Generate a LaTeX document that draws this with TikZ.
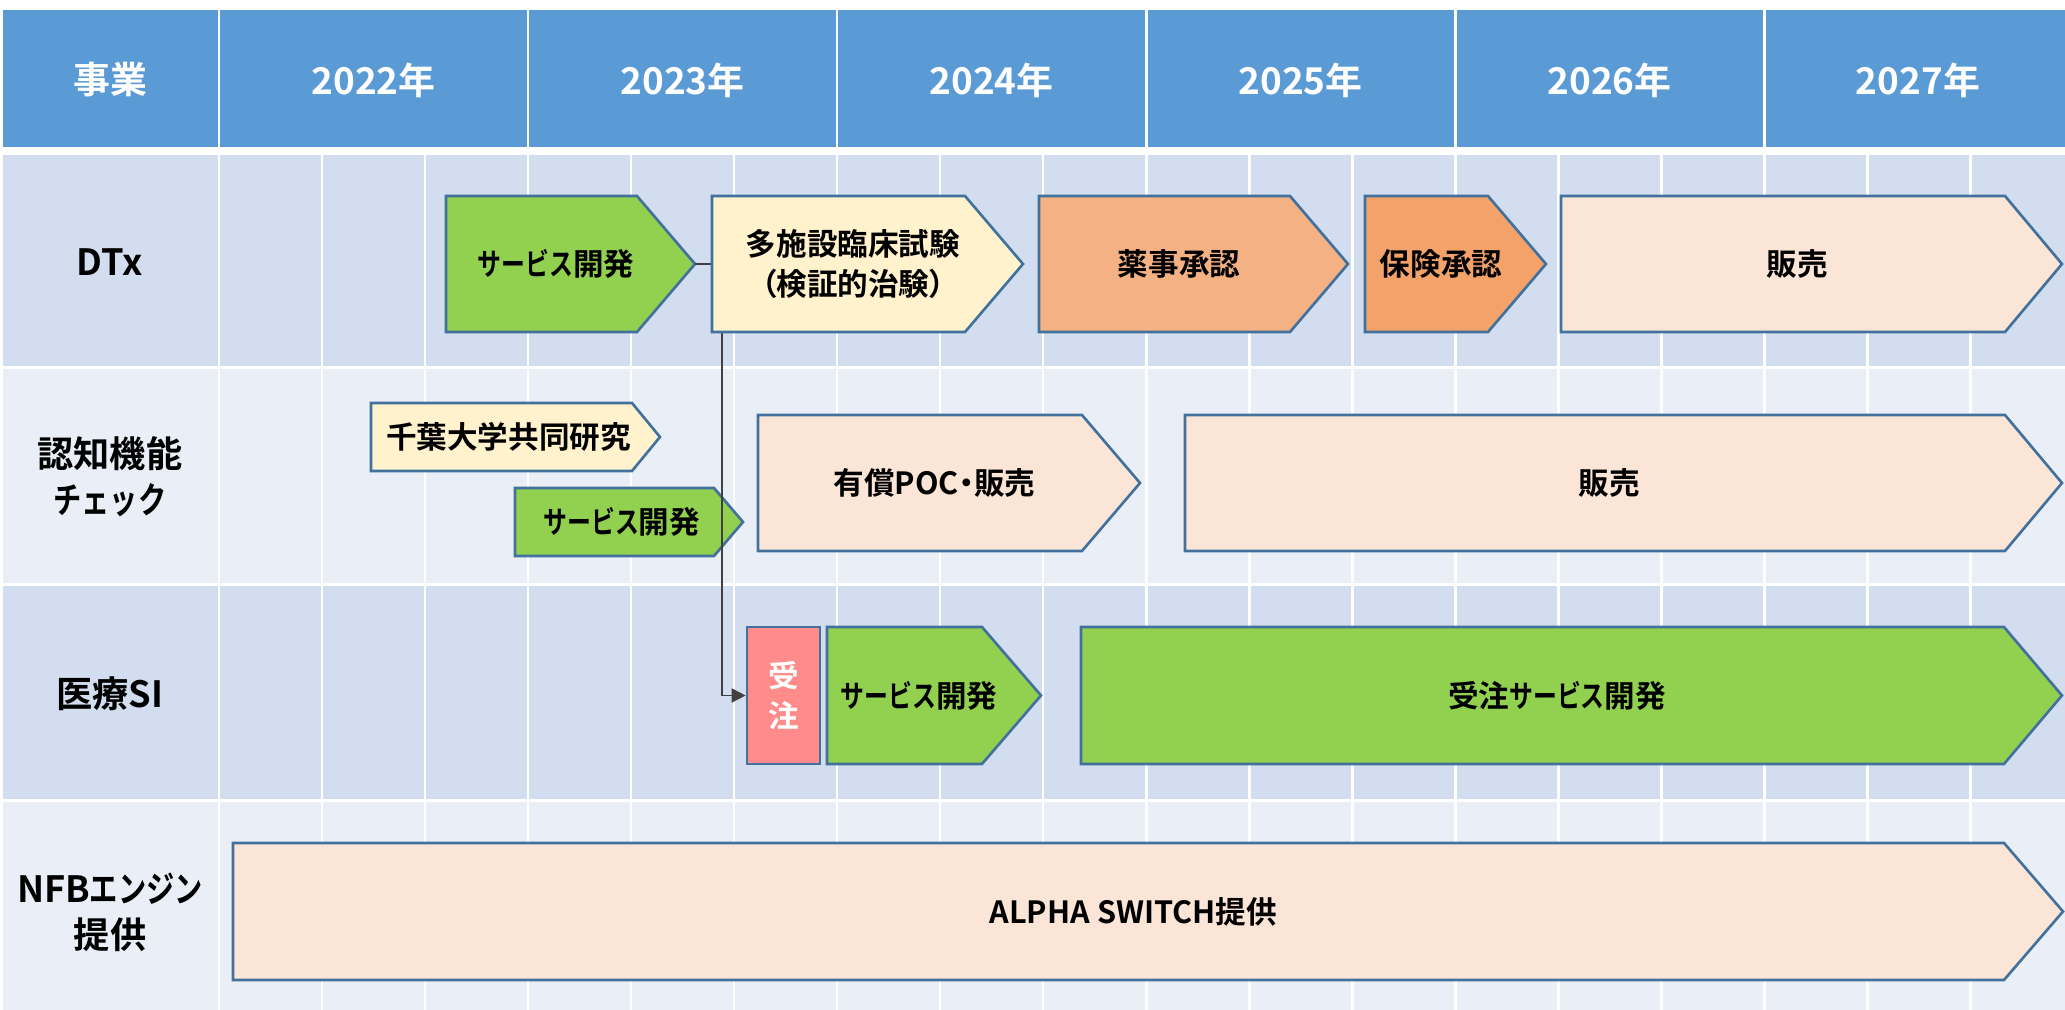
\documentclass[tikz,border=0pt]{standalone}
\usepackage{fontspec}
\setmainfont{Noto Sans CJK JP}[UprightFont={* Bold}, RawFeature=+palt]
\newfontfamily\kana{Noto Sans CJK JP}[UprightFont={* Bold}, FakeStretch=0.78]
\usetikzlibrary{arrows.meta}
\definecolor{hdr}{HTML}{5B9BD5}
\definecolor{rowdark}{HTML}{D2DEEF}
\definecolor{rowlight}{HTML}{EAEFF7}
\definecolor{edgeblue}{HTML}{41719C}
\definecolor{grn}{HTML}{92D050}
\definecolor{ylw}{HTML}{FFF2CC}
\definecolor{peach}{HTML}{FBE5D6}
\definecolor{orgA}{HTML}{F4B183}
\definecolor{orgB}{HTML}{F3A26A}
\definecolor{redbox}{HTML}{FF8B8B}
\definecolor{conncol}{HTML}{404040}
\newcommand\kn[1]{{\kana #1}}
% #1 name, #2 x left, #3 x tip, #4 y top, #5 y bottom, #6 depth, #7 fill, #8 text
\newcommand\pent[8]{%
  \draw[shapeline, fill=#7] (#2,#4) -- ({#3-#6},#4) -- (#3,{(#4+#5)/2}) -- ({#3-#6},#5) -- (#2,#5) -- cycle;
  \node[bodytext] (#1) at ({(#2+#3)/2-#6/4},{(#4+#5)/2}) {#8};
  \coordinate (#1-tip) at (#3,{(#4+#5)/2});
  \coordinate (#1-w) at (#2,{(#4+#5)/2});
}
\begin{document}
\begin{tikzpicture}[x=0.01cm, y=-0.01cm,
  shapeline/.style={draw=edgeblue, line width=0.75pt, line join=miter},
  bodytext/.style={font=\fontsize{8.7}{11.4}\selectfont, align=center, inner sep=0pt, text=black},
  hdrtext/.style={font=\fontsize{10.5}{13}\selectfont, text=white, inner sep=0pt},
  rowlabel/.style={font=\fontsize{10.3}{13.1}\selectfont, align=center, inner sep=0pt, text=black},
  gridline/.style={draw=white, line width=0.85pt},
  conn/.style={draw=conncol, line width=0.5pt, -{Triangle[length=4pt,width=4pt]}}]
\useasboundingbox (0,0) rectangle (2065,1010);
\fill[white] (0,0) rectangle (2065,1010);
% header
\fill[hdr] (3,10) rectangle (2065,147.5);
\foreach \x in {219,528,837,1146,1455,1764} \draw[gridline] (\x,10) -- (\x,147.5);
% rows
\fill[rowdark] (3,155) rectangle (2065,367.5);
\fill[rowlight] (3,367.5) rectangle (2065,584.5);
\fill[rowdark] (3,584.5) rectangle (2065,800.5);
\fill[rowlight] (3,800.5) rectangle (2065,1010);
\foreach \y in {367.5,584.5,800.5} \draw[gridline] (3,\y) -- (2065,\y);
\foreach \k in {0,...,17} \draw[gridline] ({219+103*\k},155) -- ({219+103*\k},1010);
% header texts
\node[hdrtext] (h0) at (110,80) {事業};
\node[hdrtext] (h1) at (373.5,80) {2022年};
\node[hdrtext] (h2) at (682.5,80) {2023年};
\node[hdrtext] (h3) at (991.5,80) {2024年};
\node[hdrtext] (h4) at (1300.5,80) {2025年};
\node[hdrtext] (h5) at (1609.5,80) {2026年};
\node[hdrtext] (h6) at (1918,80) {2027年};
% row labels
\node[rowlabel] (r1) at (110,262) {DTx};
\node[rowlabel] (r2) at (110,477) {認知機能\\\kn{チェック}};
\node[rowlabel] (r3) at (110,694) {医療SI};
\node[rowlabel] (r4) at (110,912) {NFB\kn{エンジン}\\提供};
% DTx row
\pent{A1}{446}{695}{196}{332}{58}{grn}{\kn{サービス}開発}
% 医療SI: order box
\node[shapeline, fill=redbox, minimum width=0.73cm, minimum height=1.37cm, inner sep=0pt,
      font=\fontsize{8.7}{11.4}\selectfont, text=white, align=center] (juchu) at (783.5,695.5) {受\\注};
% 認知機能 row
\pent{B1}{371}{660}{403}{471}{28}{ylw}{千葉大学共同研究}
\pent{B2}{515}{743}{488}{556}{29}{grn}{\kn{サービス}開発}
% connector
\coordinate (bend) at (722,264);
\draw[conn] (A1-tip) -- (bend) |- (juchu.west);
\pent{A2}{712}{1023}{196}{332}{58}{ylw}{多施設臨床試験\\（検証的治験）}
\pent{A3}{1039}{1348}{196}{332}{58}{orgA}{薬事承認}
\pent{A4}{1365}{1546}{196}{332}{58}{orgB}{保険承認}
\pent{A5}{1561}{2062}{196}{332}{57}{peach}{販売}
\pent{B3}{758}{1140}{415}{551}{58}{peach}{有償POC・販売}
\pent{B4}{1185}{2062}{415}{551}{57}{peach}{販売}
\pent{C2}{827}{1041}{627}{764}{59}{grn}{\kn{サービス}開発}
\pent{C3}{1081}{2062}{627}{764}{58}{grn}{受注\kn{サービス}開発}
\pent{D1}{233}{2063}{843}{980}{59}{peach}{ALPHA SWITCH提供}
\end{tikzpicture}
\end{document}
